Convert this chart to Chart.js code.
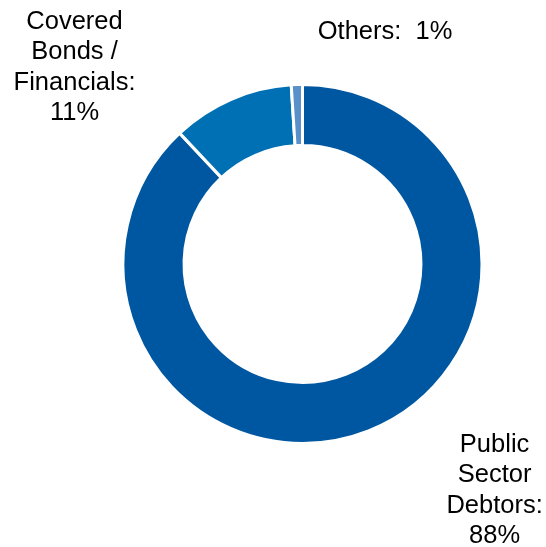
<!DOCTYPE html>
<html>
<head>
<meta charset="utf-8">
<script src="https://cdn.jsdelivr.net/npm/chart.js@4.4.0/dist/chart.umd.min.js"></script>
<style>
  html, body { margin: 0; padding: 0; background: #fff; }
  #wrap { width: 546px; height: 547px; }
</style>
</head>
<body>
<div id="wrap"><canvas id="portfolioChart" width="546" height="547"></canvas></div>
<script>
// Portfolio breakdown
const categories = ["Public Sector Debtors", "Covered Bonds / Financials", "Others"];
const shares = [88, 11, 1];
const sliceColors = ["#0057A1", "#0070B4", "#5A90CA"];

// label text lines per slice, and where each block sits (relative to centre, in radii)
const labelLines = [
  ["Public", "Sector", "Debtors:", "88%"],
  ["Covered", "Bonds /", "Financials:", "11%"],
  ["Others:  1%"]
];
const labelSpots = [
  { dx: 1.07, dy: 1.262 },
  { dx: -1.27, dy: -1.094 },
  { dx: 0.46, dy: -1.29 }
];

const outsideLabels = {
  id: "outsideLabels",
  afterDraw(chart) {
    const arc = chart.getDatasetMeta(0).data[0];
    if (!arc) return;
    const { x, y, outerRadius } = arc.getProps(["x", "y", "outerRadius"], true);
    const ctx = chart.ctx;
    const lineH = 30.5;
    ctx.save();
    ctx.font = "25.5px 'Liberation Sans', Arial, sans-serif";
    ctx.fillStyle = "#000";
    ctx.textAlign = "center";
    ctx.textBaseline = "middle";
    labelLines.forEach((lines, i) => {
      const cx = x + labelSpots[i].dx * outerRadius;
      const cy = y + labelSpots[i].dy * outerRadius;
      const top = cy - (lines.length - 1) * lineH / 2;
      lines.forEach((t, j) => ctx.fillText(t, cx, top + j * lineH));
    });
    ctx.restore();
  }
};

new Chart(document.getElementById("portfolioChart").getContext("2d"), {
  type: "doughnut",
  data: {
    labels: categories,
    datasets: [{
      data: shares,
      backgroundColor: sliceColors,
      borderColor: "#fff",
      borderWidth: 3
    }]
  },
  options: {
    responsive: false,
    animation: false,
    cutout: "66%",
    layout: { padding: { left: 121, right: 62, top: 83, bottom: 102 } },
    plugins: {
      legend: { display: false },
      tooltip: { enabled: false }
    }
  },
  plugins: [outsideLabels]
});
</script>
</body>
</html>
